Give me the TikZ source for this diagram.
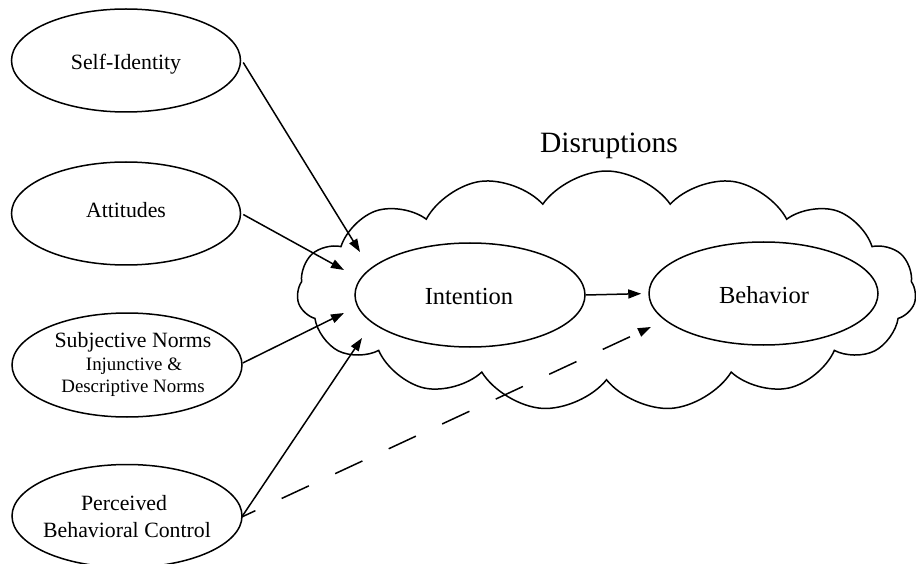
\documentclass[tikz,border=0pt]{standalone}
\usepackage{fontspec}
\setmainfont{Liberation Serif}
\usetikzlibrary{shapes.symbols,shapes.geometric,arrows.meta}
\begin{document}
\begin{tikzpicture}[x=1pt,y=-1pt,
  oval/.style={ellipse,draw,line width=1.5pt,minimum width=#1,minimum height=103pt,inner sep=0pt},
  oval/.default=229pt,
  lbl/.style={anchor=base,inner sep=0pt,font=\fontsize{21.8}{22}\selectfont},
  small/.style={anchor=base,inner sep=0pt,font=\fontsize{18.9}{19}\selectfont},
  big/.style={anchor=base,inner sep=0pt,font=\fontsize{24.5}{25}\selectfont},
  arr/.style={line width=1.5pt,-{Triangle[length=13pt,width=9pt]}},
  dsh/.style={line width=1.5pt,dash pattern=on 30pt off 29pt,dash phase=15pt,-{Triangle[length=13pt,width=9pt]}}
]
\useasboundingbox (0,0) rectangle (916,564);
% cloud
\node[cloud,draw,line width=1.5pt,cloud puffs=15,cloud puff arc=110,aspect=2.56,
      minimum width=619pt,minimum height=240pt,inner sep=0pt] (cl) at (606.5,291) {};
\node[anchor=base,inner sep=0pt,font=\fontsize{29.5}{30}\selectfont] (dis) at (609,153) {Disruptions};
% ellipses
\node[oval] (si) at (126,60.5) {};
\node[oval] (att) at (126,213.5) {};
\node[oval=230pt,minimum height=104pt] (sn) at (127,365) {};
\node[oval=230pt] (pbc) at (127,516) {};
\node[oval=230pt,minimum height=104pt,fill=white] (int) at (470,295) {};
\node[oval,fill=white] (beh) at (763.5,293.5) {};
% labels
\node[lbl] (sit) at (126,70) {Self-Identity};
\node[lbl] (attt) at (126,218) {Attitudes};
\node[lbl] (snt1) at (133,347) {Subjective Norms};
\node[small] (snt2) at (134,370) {Injunctive \&};
\node[small] (snt3) at (133,392) {Descriptive Norms};
\node[lbl] (pbct1) at (124,510) {Perceived};
\node[lbl] (pbct2) at (127,537) {Behavioral Control};
\node[big] (intt) at (469,304) {Intention};
\node[big] (beht) at (764,303) {Behavior};
% arrow tips
\coordinate (t1) at (360,252);
\coordinate (t2) at (344,270);
\coordinate (t3) at (344,313);
\coordinate (t4) at (362,338);
\coordinate (t5) at (651,327);
\draw[arr] (si.east) ++(2,2) coordinate (s1) -- (t1);
\draw[arr] (att.east) ++(2,1) coordinate (s2) -- (t2);
\draw[arr] (sn.east) ++(0,-2) coordinate (s3) -- (t3);
\draw[arr] (pbc.east) ++(-1,1) coordinate (s4) -- (t4);
\draw[arr,shorten >=7pt] (int.east) -- (beh.west);
\draw[dsh] (s4) -- (t5);
\end{tikzpicture}
\end{document}
